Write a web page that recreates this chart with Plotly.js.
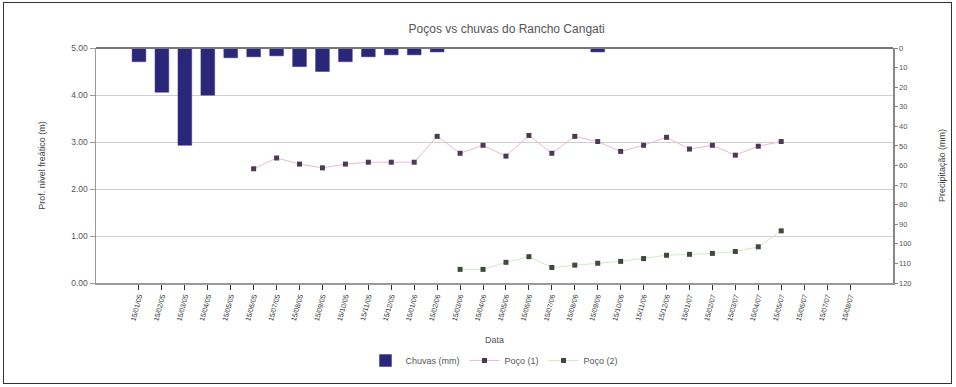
<!DOCTYPE html>
<html>
<head>
<meta charset="utf-8">
<script src="https://cdn.plot.ly/plotly-3.0.1.min.js"></script>
<style>
html,body{margin:0;padding:0;background:#fff;}
#wrap{position:relative;width:956px;height:387px;}
#chart{width:956px;height:387px;}
#frame{position:absolute;left:3px;top:2px;width:947px;height:380px;border:1.5px solid #333;pointer-events:none;}
</style>
</head>
<body>
<div id="wrap"><div id="chart"></div><div id="frame"></div></div>
<script>
const categories = ["15/01/05","15/02/05","15/03/05","15/04/05","15/05/05","15/06/05","15/07/05","15/08/05",
  "15/09/05","15/10/05","15/11/05","15/12/05","15/01/06","15/02/06","15/03/06","15/04/06",
  "15/05/06","15/06/06","15/07/06","15/08/06","15/09/06","15/10/06","15/11/06","15/12/06",
  "15/01/07","15/02/07","15/03/07","15/04/07","15/05/07","15/06/07","15/07/07","15/08/07"];

const chuva = [7.0,22.6,49.7,24.1,5.0,4.5,4.0,9.5,12.0,7.0,4.5,3.5,3.5,2.0,null,null,
  null,null,null,null,2.0,null,null,null,null,null,null,null,null,null,null,null];

const poco1 = [null,null,null,null,null,2.43,2.66,2.53,2.45,2.53,2.57,2.57,2.57,3.12,2.76,2.93,
  2.70,3.14,2.76,3.12,3.01,2.80,2.93,3.10,2.85,2.93,2.72,2.91,3.01,null,null,null];

const poco2 = [null,null,null,null,null,null,null,null,null,null,null,null,null,null,0.29,0.29,
  0.44,0.56,0.33,0.38,0.42,0.46,0.52,0.59,0.61,0.63,0.67,0.77,1.11,null,null,null];

const FONT = "Liberation Sans, Arial, sans-serif";

const traces = [
  {type:"bar", name:"Chuvas (mm)", x:categories, y:chuva, yaxis:"y2",
   marker:{color:"#2a2778", line:{color:"#3a3590", width:0.5}}},
  {type:"scatter", mode:"lines+markers", name:"Poço (1)", x:categories, y:poco1, yaxis:"y",
   line:{color:"#e9b9d6", width:1}, marker:{symbol:"square", size:5, color:"#4b3a55"}},
  {type:"scatter", mode:"lines+markers", name:"Poço (2)", x:categories, y:poco2, yaxis:"y",
   line:{color:"#d4e8c8", width:1}, marker:{symbol:"square", size:5, color:"#3e4a3c"}}
];

const layout = {
  width:956, height:387,
  margin:{l:96, r:63, t:48, b:100},
  paper_bgcolor:"#fff", plot_bgcolor:"#fff",
  font:{family:FONT, size:8, color:"#444"},
  title:{text:"Poços vs chuvas do Rancho Cangati", x:0.53, xanchor:"center", y:0.925, yanchor:"middle",
         font:{family:FONT, size:12, color:"#555"}},
  bargap:0.4,
  showlegend:true,
  legend:{orientation:"h", x:0.5, xanchor:"center", y:-0.33, yanchor:"middle",
          font:{family:FONT, size:9, color:"#555"}, itemwidth:30, tracegroupgap:0},
  xaxis:{type:"category", tickangle:-75, ticks:"outside", ticklen:5, tickcolor:"#333",
         showline:true, linecolor:"#999", linewidth:1.5, showgrid:false,
         tickfont:{family:FONT, size:7, color:"#333"},
         title:{text:"Data", font:{family:FONT, size:9, color:"#555"}, standoff:16}},
  yaxis:{range:[0,5], dtick:1, tickformat:".2f", showline:true, linecolor:"#999", linewidth:1.5,
         showgrid:true, gridcolor:"#cfcfcf", gridwidth:1, zeroline:false, ticks:"outside", ticklen:5, tickcolor:"#999",
         tickfont:{family:FONT, size:8.5, color:"#555"},
         title:{text:"Prof. nível freático (m)", font:{family:FONT, size:9, color:"#444"}, standoff:24}},
  yaxis2:{overlaying:"y", side:"right", range:[120,0], dtick:10, showline:true, linecolor:"#888", linewidth:1.5,
          showgrid:false, zeroline:false, ticks:"outside", ticklen:3, tickcolor:"#888",
          tickfont:{family:FONT, size:7.5, color:"#555"},
          title:{text:"Precipitação (mm)", font:{family:FONT, size:9, color:"#444"}, standoff:28}},
  shapes:[{type:"line", xref:"paper", yref:"paper", x0:0, x1:1, y0:1, y1:1, line:{color:"#777", width:2}}]
};

Plotly.newPlot("chart", traces, layout, {displayModeBar:false, staticPlot:true});
</script>
</body>
</html>
